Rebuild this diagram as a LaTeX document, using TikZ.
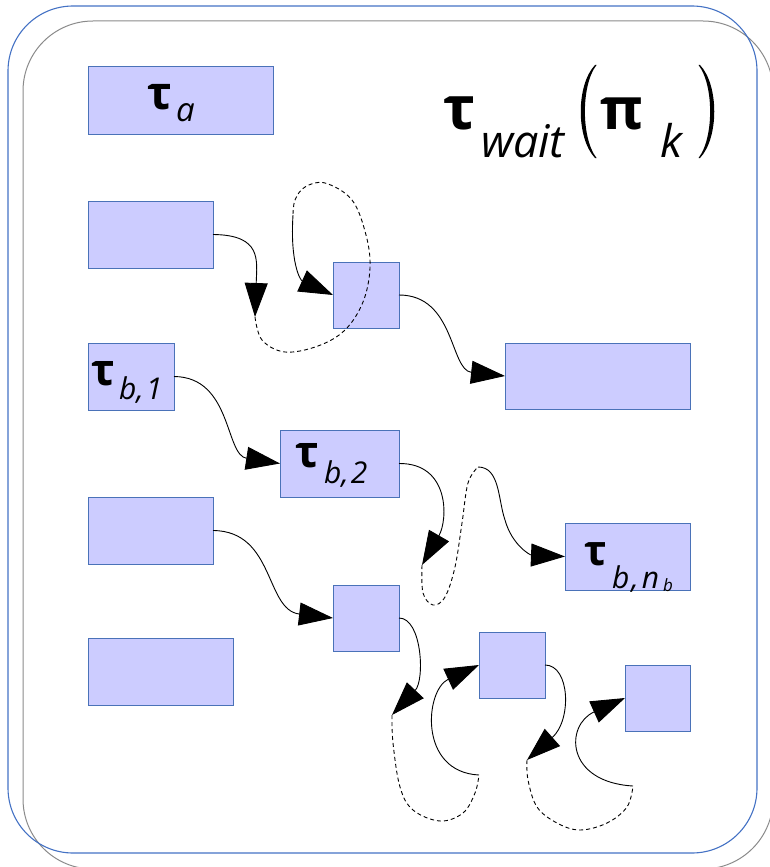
\documentclass[tikz,border=0pt]{standalone}
\usepackage{fontspec}
\setmainfont{Open Sans}
\usetikzlibrary{arrows.meta}
\definecolor{boxfill}{HTML}{CCCCFF}
\definecolor{boxline}{HTML}{4A72B8}
\definecolor{frameblue}{HTML}{4472C4}
\definecolor{framegray}{HTML}{8A8A8A}
\tikzset{
  taskbox/.style={draw=boxline, fill=boxfill, line width=1pt, inner sep=0pt, outer sep=0pt, anchor=north west},
  flow/.style={line width=0.9pt, -{Triangle[length=34pt,width=23pt]}},
  waitline/.style={line width=0.9pt, dash pattern=on 4pt off 3pt},
  lbl/.style={anchor=base west, inner sep=0pt, outer sep=0pt},
  gk/.style={lbl, font=\fontsize{#1}{#1}\selectfont\bfseries},
  sb/.style={lbl, font=\fontsize{#1}{#1}\selectfont\itshape},
}
\begin{document}
\begin{tikzpicture}[x=1pt,y=-1pt]
\useasboundingbox (0,0) rectangle (770,867);
% frames
\draw[framegray, line width=1pt, rounded corners=70pt] (23,21) rectangle (773,869);
\draw[frameblue, line width=1.1pt, rounded corners=65pt] (8,6) rectangle (757,853);

% boxes
\node[taskbox, minimum width=185pt, minimum height=67pt] (ta)  at (88,67)  {};
\node[taskbox, minimum width=125pt, minimum height=67pt] (b2)  at (88,201) {};
\node[taskbox, minimum width=66pt,  minimum height=66pt] (b3)  at (333,262) {};
\node[taskbox, minimum width=185pt, minimum height=66pt] (b4)  at (505,343) {};
\node[taskbox, minimum width=86pt,  minimum height=67pt] (tb1) at (88,343) {};
\node[taskbox, minimum width=119pt, minimum height=67pt] (tb2) at (280,430) {};
\node[taskbox, minimum width=125pt, minimum height=67pt] (tbn) at (565,523) {};
\node[taskbox, minimum width=125pt, minimum height=67pt] (b8)  at (88,497) {};
\node[taskbox, minimum width=66pt,  minimum height=66pt] (b9)  at (333,585) {};
\node[taskbox, minimum width=145pt, minimum height=67pt] (b10) at (88,638) {};
\node[taskbox, minimum width=66pt,  minimum height=66pt] (b11) at (479,632) {};
\node[taskbox, minimum width=65pt,  minimum height=66pt] (b12) at (625,665) {};

% labels
\node[gk=46] (ta-t) at (147,109) {τ};
\node[sb=33] (ta-s) at (176,121) {a};
\node[gk=44] (tb1-t) at (91,385) {τ};
\node[sb=30] (tb1-s) at (119,399) {b,\kern2pt 1};
\node[gk=44] (tb2-t) at (295,467) {τ};
\node[sb=30] (tb2-s) at (324,483) {b,\kern2pt 2};
\node[gk=42] (tbn-t) at (584,565) {τ};
\node[sb=30] (tbn-s) at (612,588) {b\kern2pt,\kern3pt n};
\node[sb=17] (tbn-ss) at (663,591) {b};

% title
\node[gk=60] (tw-t) at (443,129) {τ};
\node[sb=45] (tw-s) at (481,157) {wait};
\fill (595,65) .. controls (576,85) and (576,138) .. (595,158)
      -- (596.5,158) .. controls (581,138) and (581,85) .. (596.5,65) -- cycle;
\node[gk=58] (tw-p) at (600,129) {π};
\node[sb=45] (tw-k) at (660,157) {k};
\fill (700,65) .. controls (719,85) and (719,138) .. (700,158)
      -- (698.5,158) .. controls (714,138) and (714,85) .. (698.5,65) -- cycle;

% connectors
\coordinate (w1a) at (255,317);
\coordinate (w1b) at (293,215);
\draw[flow] (b2.east) .. controls (262,235) and (257,260) .. (w1a);
\draw[waitline] plot[smooth, tension=0.6] coordinates {(w1a) (262,340) (285,352) (318,346) (345,330) (363,302) (370,268) (366,235) (352,200) (325,183) (305,187) (295,200) (w1b)};
\draw[flow] (w1b) .. controls (290,262) and (300,280) .. (b3.west);

\draw[flow] (b3.east) .. controls (455,295) and (450,370) .. (b4.west);
\draw[flow] (tb1.east) .. controls (232,377) and (225,455) .. (tb2.west);
\draw[flow] (b8.east) .. controls (275,531) and (265,610) .. (b9.west);

\coordinate (w2a) at (422,565);
\coordinate (w2b) at (478,467);
\draw[flow] (tb2.east) .. controls (450,463) and (448,520) .. (w2a);
\draw[waitline] plot[smooth, tension=0.6] coordinates {(w2a) (423,593) (433,605) (445,597) (455,567) (462,523) (468,483) (w2b)};
\draw[flow] (w2b) .. controls (500,467) and (498,500) .. (505,520) .. controls (512,545) and (530,555) .. (tbn.west);

\coordinate (w3a) at (392,715);
\coordinate (w3b) at (479,775);
\draw[flow] (b9.east) .. controls (422,618) and (425,680) .. (w3a);
\draw[waitline] plot[smooth, tension=0.6] coordinates {(w3a) (393,743) (400,787) (413,810) (440,821) (463,813) (475,793) (w3b)};
\draw[flow] (w3b) .. controls (418,772) and (425,690) .. (b11.west);

\coordinate (w4a) at (527,760);
\coordinate (w4b) at (633,786);
\draw[flow] (b11.east) .. controls (570,665) and (572,720) .. (w4a);
\draw[waitline] plot[smooth, tension=0.6] coordinates {(w4a) (528,780) (537,807) (557,823) (580,830) (607,823) (627,807) (w4b)};
\draw[flow] (w4b) .. controls (565,782) and (565,725) .. (b12.west);
\end{tikzpicture}
\end{document}
